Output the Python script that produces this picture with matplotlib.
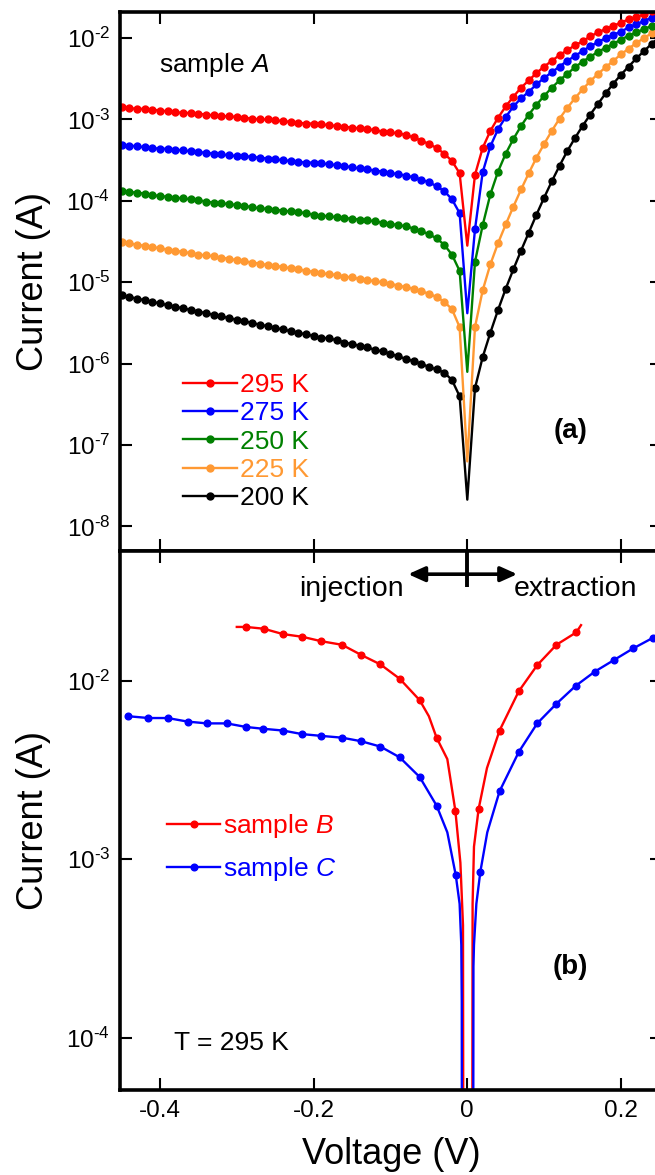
import math

import matplotlib.pyplot as plt
from matplotlib.ticker import FixedLocator, FuncFormatter, NullLocator

plt.rcParams["font.family"] = ["Liberation Sans", "DejaVu Sans"]
plt.rcParams["mathtext.fontset"] = "custom"
plt.rcParams["mathtext.rm"] = "Liberation Sans"
plt.rcParams["mathtext.it"] = "Liberation Sans:italic"
plt.rcParams["mathtext.bf"] = "Liberation Sans:bold"
plt.rcParams["axes.unicode_minus"] = False

# ---- panel (a): sample A, log10 of current (A) vs voltage (V) ----
voltage_a = [-0.45, -0.44, -0.43, -0.42, -0.41, -0.40, -0.39, -0.38, -0.37, -0.36,
             -0.35, -0.34, -0.33, -0.32, -0.31, -0.30, -0.29, -0.28, -0.27, -0.26,
             -0.25, -0.24, -0.23, -0.22, -0.21, -0.20, -0.19, -0.18, -0.17, -0.16,
             -0.15, -0.14, -0.13, -0.12, -0.11, -0.10, -0.09, -0.08, -0.07, -0.06,
             -0.05, -0.04, -0.03, -0.02, -0.01, 0.0,
             0.01, 0.02, 0.03, 0.04, 0.05, 0.06, 0.07, 0.08, 0.09, 0.10,
             0.11, 0.12, 0.13, 0.14, 0.15, 0.16, 0.17, 0.18, 0.19, 0.20,
             0.21, 0.22, 0.23, 0.24, 0.25]

log_i_295 = [-2.85, -2.86, -2.87, -2.87, -2.88, -2.89, -2.90, -2.91, -2.92, -2.92,
             -2.93, -2.94, -2.95, -2.96, -2.96, -2.97, -2.98, -2.99, -3.00, -3.00,
             -3.01, -3.02, -3.03, -3.04, -3.05, -3.05, -3.06, -3.07, -3.08, -3.09,
             -3.10, -3.11, -3.12, -3.13, -3.15, -3.16, -3.17, -3.19, -3.22, -3.26,
             -3.30, -3.35, -3.42, -3.51, -3.66, -4.55,
             -3.68, -3.35, -3.14, -2.98, -2.84, -2.72, -2.61, -2.52, -2.43, -2.35,
             -2.28, -2.21, -2.15, -2.09, -2.04, -1.98, -1.93, -1.89, -1.85, -1.81,
             -1.77, -1.74, -1.71, -1.67, -1.64]

log_i_275 = [-3.31, -3.32, -3.33, -3.34, -3.35, -3.36, -3.36, -3.37, -3.38, -3.39,
             -3.40, -3.41, -3.42, -3.43, -3.44, -3.45, -3.45, -3.46, -3.47, -3.48,
             -3.49, -3.50, -3.51, -3.52, -3.53, -3.53, -3.54, -3.55, -3.56, -3.57,
             -3.59, -3.60, -3.61, -3.63, -3.64, -3.66, -3.67, -3.69, -3.71, -3.74,
             -3.77, -3.82, -3.88, -3.98, -4.15, -5.38,
             -4.35, -3.65, -3.33, -3.12, -2.97, -2.84, -2.74, -2.66, -2.57, -2.49,
             -2.42, -2.35, -2.28, -2.22, -2.16, -2.10, -2.05, -2.00, -1.96, -1.92,
             -1.87, -1.83, -1.79, -1.75, -1.71]

log_i_250 = [-3.88, -3.89, -3.90, -3.91, -3.93, -3.94, -3.95, -3.96, -3.97, -3.98,
             -3.99, -4.01, -4.02, -4.03, -4.04, -4.05, -4.06, -4.08, -4.09, -4.10,
             -4.11, -4.12, -4.13, -4.14, -4.15, -4.17, -4.18, -4.19, -4.20, -4.21,
             -4.22, -4.23, -4.24, -4.25, -4.27, -4.28, -4.30, -4.31, -4.34, -4.37,
             -4.41, -4.46, -4.54, -4.66, -4.86, -6.10,
             -4.75, -4.30, -3.92, -3.64, -3.42, -3.24, -3.08, -2.94, -2.82, -2.71,
             -2.61, -2.52, -2.44, -2.36, -2.29, -2.23, -2.17, -2.12, -2.07, -2.02,
             -1.97, -1.93, -1.89, -1.85, -1.81]

log_i_225 = [-4.51, -4.52, -4.54, -4.55, -4.57, -4.58, -4.60, -4.61, -4.63, -4.64,
             -4.66, -4.67, -4.68, -4.70, -4.71, -4.73, -4.74, -4.76, -4.77, -4.79,
             -4.80, -4.81, -4.83, -4.84, -4.86, -4.87, -4.89, -4.90, -4.91, -4.93,
             -4.94, -4.96, -4.97, -4.99, -5.00, -5.02, -5.04, -5.06, -5.08, -5.11,
             -5.14, -5.18, -5.24, -5.33, -5.55, -7.20,
             -5.55, -5.10, -4.78, -4.52, -4.29, -4.07, -3.86, -3.66, -3.47, -3.30,
             -3.14, -2.99, -2.86, -2.74, -2.63, -2.53, -2.44, -2.36, -2.28, -2.20,
             -2.13, -2.06, -2.00, -1.94, -1.88]

log_i_200 = [-5.16, -5.18, -5.20, -5.22, -5.24, -5.26, -5.28, -5.30, -5.32, -5.34,
             -5.36, -5.38, -5.40, -5.42, -5.44, -5.46, -5.48, -5.50, -5.52, -5.54,
             -5.56, -5.58, -5.60, -5.62, -5.64, -5.66, -5.68, -5.69, -5.71, -5.74,
             -5.76, -5.78, -5.80, -5.83, -5.85, -5.88, -5.91, -5.94, -5.97, -6.00,
             -6.04, -6.07, -6.11, -6.20, -6.40, -7.67,
             -6.30, -5.92, -5.62, -5.34, -5.08, -4.84, -4.61, -4.39, -4.17, -3.96,
             -3.76, -3.57, -3.39, -3.23, -3.08, -2.94, -2.81, -2.68, -2.56, -2.45,
             -2.35, -2.25, -2.16, -2.07, -1.99]

temps = ["295 K", "275 K", "250 K", "225 K", "200 K"]

# ---- panel (b): samples B and C at 295 K ----
voltage_b = [-0.300, -0.288, -0.265, -0.240, -0.215, -0.190, -0.163, -0.138, -0.113,
             -0.088, -0.062, -0.050, -0.040, -0.026, -0.0155, -0.009, -0.0056, -0.0048,
             0.0061, 0.0069, 0.0087, 0.0147, 0.0256, 0.042, 0.067, 0.091, 0.116,
             0.142, 0.148]
log_i_b = [-1.70, -1.70, -1.71, -1.74, -1.755, -1.78, -1.80, -1.857, -1.91,
           -1.99, -2.11, -2.20, -2.32, -2.44, -2.73, -3.02, -3.37, -6.0,
           -6.0, -3.25, -2.93, -2.72, -2.49, -2.28, -2.06, -1.914, -1.80,
           -1.73, -1.69]

voltage_c = [-0.441, -0.415, -0.390, -0.364, -0.339, -0.313, -0.288, -0.266, -0.240,
             -0.215, -0.190, -0.163, -0.138, -0.113, -0.088, -0.062, -0.040, -0.026,
             -0.015, -0.010, -0.0078, -0.0072, -0.0069, 0.0074, 0.0080, 0.0087, 0.0118,
             0.017, 0.026, 0.042, 0.067, 0.091, 0.116, 0.141, 0.166, 0.191,
             0.216, 0.242, 0.26]
log_i_c = [-2.20, -2.21, -2.21, -2.23, -2.24, -2.24, -2.26, -2.27, -2.28,
           -2.30, -2.31, -2.32, -2.34, -2.37, -2.43, -2.54, -2.70, -2.85,
           -3.09, -3.25, -3.48, -3.80, -6.0, -6.0, -3.60, -3.48, -3.25,
           -3.07, -2.85, -2.62, -2.40, -2.24, -2.13, -2.03, -1.95, -1.885,
           -1.82, -1.76, -1.72]

# styling
colors_a = ["#ff0000", "#0000ff", "#008000", "#ff9933", "#000000"]
red, blue = "#ff0000", "#0000ff"
marks_b = [1, 2, 3, 4, 5, 6, 7, 8, 9, 10, 12, 14, 21, 23, 24, 25, 26, 27]
marks_c = list(range(0, 17)) + [18, 27] + list(range(29, 38))

W, H = 655, 1175
fig = plt.figure(figsize=(W / 100, H / 100), dpi=100)
ax_a = fig.add_axes([120 / W, 1 - 551 / H, 542 / W, 539 / H])
ax_b = fig.add_axes([120 / W, 1 - 1090 / H, 542 / W, 539 / H])

x_lim = (-0.452, 0.2534)


def decade_label(val, pos):
    exp = int(round(math.log10(val)))
    return r"$\mathdefault{10^{\text{-}%d}}$" % abs(exp)


def style_axes(ax, decades):
    ax.set_yscale("log")
    ax.set_xlim(*x_lim)
    ax.xaxis.set_major_locator(FixedLocator([-0.4, -0.2, 0.0, 0.2]))
    ax.yaxis.set_major_locator(FixedLocator([10.0 ** d for d in decades]))
    ax.yaxis.set_minor_locator(NullLocator())
    ax.yaxis.set_major_formatter(FuncFormatter(decade_label))
    ax.tick_params(which="major", direction="in", length=8.6, width=1.5,
                   top=True, right=True, labelsize=17.5, pad=7)
    for sp in ax.spines.values():
        sp.set_linewidth(2.6)


# panel (a) - draw coldest first so the warm curves sit on top
curves = [log_i_295, log_i_275, log_i_250, log_i_225, log_i_200]
handles = []
marks_a = [i for i, v in enumerate(voltage_a) if v != 0.0]
for logs, col, lab in reversed(list(zip(curves, colors_a, temps))):
    h, = ax_a.plot(voltage_a, [10.0 ** l for l in logs], color=col, lw=1.7,
                   marker="o", ms=5, markevery=marks_a, label=lab)
    handles.append(h)
handles = handles[::-1]

style_axes(ax_a, range(-8, -1))
ax_a.set_ylim(5.0e-9, 2.09e-2)
ax_a.tick_params(labelbottom=False)
ax_a.set_ylabel("Current (A)", fontsize=26)
ax_a.yaxis.set_label_coords(-0.128, 0.5)

ax_a.legend(handles=handles, loc="upper left", bbox_to_anchor=(0.116, 0.33),
            frameon=False, fontsize=19, handlelength=2.05, handletextpad=0.12,
            labelspacing=0.16, borderpad=0, borderaxespad=0, numpoints=1,
            labelcolor="linecolor")
tr_a = ax_a.get_xaxis_transform()
ax_a.text(-0.401, 0.902, r"sample $\mathit{A}$", fontsize=19,
          transform=tr_a, va="center", ha="left")
ax_a.text(0.134, 0.2226, "(a)", fontsize=20, fontweight="bold",
          transform=tr_a, va="center", ha="center")

# panel (b)
ax_b.plot(voltage_b, [10.0 ** l for l in log_i_b], color=red, lw=1.7,
          marker="o", ms=4.8, markevery=marks_b, label=r"sample $\mathit{B}$")
ax_b.plot(voltage_c, [10.0 ** l for l in log_i_c], color=blue, lw=1.7,
          marker="o", ms=4.8, markevery=marks_c, label=r"sample $\mathit{C}$")

style_axes(ax_b, range(-4, -1))
ax_b.set_ylim(5.1e-5, 5.31e-2)
ax_b.xaxis.set_major_formatter(FuncFormatter(lambda v, p: "0" if abs(v) < 1e-9 else "%.1f" % v))
ax_b.set_ylabel("Current (A)", fontsize=26)
ax_b.yaxis.set_label_coords(-0.128, 0.5)
ax_b.set_xlabel("Voltage (V)", fontsize=26)
ax_b.xaxis.set_label_coords(0.5, -0.088)

ax_b.legend(loc="upper left", bbox_to_anchor=(0.087, 0.515), frameon=False,
            fontsize=19, handlelength=2.0, handletextpad=0.12, labelspacing=0.55,
            borderpad=0, borderaxespad=0, numpoints=1, labelcolor="linecolor")

tr_b = ax_b.get_xaxis_transform()
ax_b.text(-0.3815, 0.087, "T = 295 K", fontsize=19, transform=tr_b, va="center", ha="left")
ax_b.text(0.134, 0.228, "(b)", fontsize=20, fontweight="bold", transform=tr_b,
          va="center", ha="center")
ax_b.text(-0.083, 0.9295, "injection", fontsize=20.5, transform=tr_b, va="center", ha="right")
ax_b.text(0.060, 0.9295, "extraction", fontsize=20.5, transform=tr_b, va="center", ha="left")

# double arrow and the bar at V = 0
ax_b.annotate("", xy=(-0.077, 0.957), xytext=(0.065, 0.957), xycoords=tr_b, textcoords=tr_b,
              arrowprops=dict(arrowstyle="<|-|>,head_length=1.0,head_width=0.45",
                              color="black", lw=2.6, shrinkA=0, shrinkB=0))
ax_b.plot([0.0, 0.0], [0.933, 1.0], color="black", lw=2.8, transform=tr_b,
          solid_capstyle="butt", clip_on=False)

fig.savefig("out.png", dpi=100)
